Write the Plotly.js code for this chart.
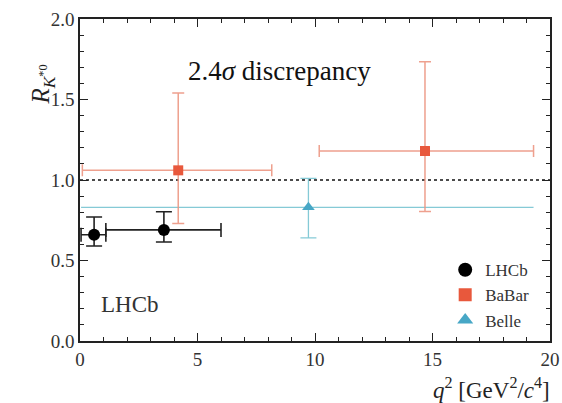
<!DOCTYPE html>
<html>
<head>
<meta charset="utf-8">
<script src="https://cdn.plot.ly/plotly-3.0.1.min.js"></script>
<style>
  html, body { margin: 0; padding: 0; background: #fff; }
  #wrap { position: relative; width: 562px; height: 403px; }
  #chart { position: absolute; left: 0; top: 0; width: 562px; height: 403px; z-index: 1; }
  /* serif faces used by the chart, laid out underneath it so they are ready first */
  #fontwarm { position: absolute; left: 200px; top: 200px; z-index: 0; color: #fff;
              font-family: 'Liberation Serif'; font-size: 16px; white-space: nowrap; }
</style>
</head>
<body>
<div id="wrap">
  <div id="fontwarm">LHCb <i>q</i></div>
  <div id="chart"></div>
</div>
<script>
// R_K*0 measurements versus q^2 bins
const lhcbQ2     = [0.6, 3.57];
const lhcbQ2Lo   = [0.045, 1.1];
const lhcbQ2Hi   = [1.1, 6.0];
const lhcbR      = [0.66, 0.69];
const lhcbRUp    = [0.11, 0.113];
const lhcbRDown  = [0.07, 0.075];

const babarQ2    = [4.18, 14.68];
const babarQ2Lo  = [0.1, 10.18];
const babarQ2Hi  = [8.16, 19.3];
const babarR     = [1.06, 1.18];
const babarRUp   = [0.48, 0.555];
const babarRDown = [0.33, 0.375];

const belleQ2    = [9.72];
const belleQ2Lo  = [0.045];
const belleQ2Hi  = [19.3];
const belleR     = [0.83];
const belleRUp   = [0.18];
const belleRDown = [0.19];

const smValue = 1.0;
const seriesNames = ['LHCb', 'BaBar', 'Belle'];

const SERIF = 'Liberation Serif';

function xErr(center, lo, hi) {
  return {
    plus: center.map((c, i) => hi[i] - c),
    minus: center.map((c, i) => c - lo[i])
  };
}

function measurement(x, lo, hi, y, up, down, marker, errColor, errThick, capY, capX) {
  const xe = xErr(x, lo, hi);
  return {
    type: 'scatter', mode: 'markers', x: x, y: y, showlegend: false,
    marker: marker,
    error_x: { type: 'data', symmetric: false, array: xe.plus, arrayminus: xe.minus,
               color: errColor, thickness: errThick, width: capX },
    error_y: { type: 'data', symmetric: false, array: up, arrayminus: down,
               color: errColor, thickness: errThick, width: capY },
    cliponaxis: false
  };
}

const traces = [
  measurement(belleQ2, belleQ2Lo, belleQ2Hi, belleR, belleRUp, belleRDown,
              { symbol: 'triangle-up', size: 11, color: '#47a7c6' },
              'rgba(120,196,210,0.9)', 1.3, 8, 0),
  measurement(babarQ2, babarQ2Lo, babarQ2Hi, babarR, babarRUp, babarRDown,
              { symbol: 'square', size: 10, color: '#e8583c' },
              'rgba(236,150,130,0.9)', 1.5, 6, 6),
  measurement(lhcbQ2, lhcbQ2Lo, lhcbQ2Hi, lhcbR, lhcbRUp, lhcbRDown,
              { symbol: 'circle', size: 12, color: '#000000' },
              '#222222', 1.6, 8, 7),
  // legend entries
  { type: 'scatter', mode: 'markers', x: [null], y: [null], name: seriesNames[0],
    marker: { symbol: 'circle', size: 14, color: '#000' } },
  { type: 'scatter', mode: 'markers', x: [null], y: [null], name: seriesNames[1],
    marker: { symbol: 'square', size: 13, color: '#e8583c' } },
  { type: 'scatter', mode: 'markers', x: [null], y: [null], name: seriesNames[2],
    marker: { symbol: 'triangle-up', size: 14, color: '#47a7c6' } }
];

function axis(extra) {
  return Object.assign({
    showgrid: false, zeroline: false,
    showline: true, linecolor: '#222', linewidth: 1.6,
    mirror: 'ticks', ticks: 'inside', ticklen: 8, tickwidth: 1.4, tickcolor: '#222',
    tickfont: { family: SERIF, size: 19, color: '#333' }
  }, extra);
}

const layout = {
  width: 562, height: 403,
  margin: { l: 80, r: 12, t: 19, b: 62 },
  paper_bgcolor: '#fff', plot_bgcolor: '#fff',
  font: { family: SERIF, size: 16, color: '#222' },
  xaxis: axis({
    range: [0, 20], tickvals: [0, 5, 10, 15, 20],
    minor: { dtick: 1, ticks: 'inside', ticklen: 4, tickwidth: 1.2, tickcolor: '#222' }
  }),
  yaxis: axis({
    range: [0, 2], tickvals: [0, 0.5, 1, 1.5, 2], tickformat: '.1f',
    minor: { dtick: 0.1, ticks: 'inside', ticklen: 4, tickwidth: 1.2, tickcolor: '#222' }
  }),
  showlegend: true,
  legend: {
    x: 0.777, xanchor: 'left', y: 0.276, yanchor: 'top',
    bgcolor: 'rgba(0,0,0,0)', borderwidth: 0,
    font: { family: SERIF, size: 17, color: '#333' },
    itemwidth: 30
  },
  shapes: [
    { type: 'line', xref: 'paper', x0: 0, x1: 1, yref: 'y', y0: smValue, y1: smValue,
      line: { color: '#111', width: 1.3, dash: 'dot' }, layer: 'below' }
  ],
  annotations: [
    { text: '2.4<i>σ</i> discrepancy', xref: 'x', yref: 'y', x: 8.47, y: 1.68,
      showarrow: false, font: { family: SERIF, size: 27, color: '#111' } },
    { text: 'LHCb', xref: 'x', yref: 'y', x: 2.13, y: 0.224,
      showarrow: false, font: { family: SERIF, size: 23, color: '#333' } },
    { text: '<i>R</i><sub><i>K</i><sup>*0</sup></sub>', xref: 'paper', yref: 'paper',
      x: -0.117, y: 0.863, textangle: -90, showarrow: false,
      font: { family: SERIF, size: 25, color: '#222' } },
    { text: '<i>q</i><sup>2</sup> [GeV<sup>2</sup>/<i>c</i><sup>4</sup>]', xref: 'paper', yref: 'paper',
      x: 1.004, xanchor: 'right', y: -0.146, yanchor: 'middle', showarrow: false,
      font: { family: SERIF, size: 23, color: '#222' } }
  ]
};

const config = { displayModeBar: false };

function draw() {
  return Plotly.newPlot('chart', traces, layout, config);
}

draw();

// lay the text out again once the serif faces are ready
if (document.fonts && document.fonts.load) {
  Promise.all([
    document.fonts.load("19px 'Liberation Serif'"),
    document.fonts.load("italic 19px 'Liberation Serif'")
  ]).then(draw).catch(function () {});
}
</script>
</body>
</html>
